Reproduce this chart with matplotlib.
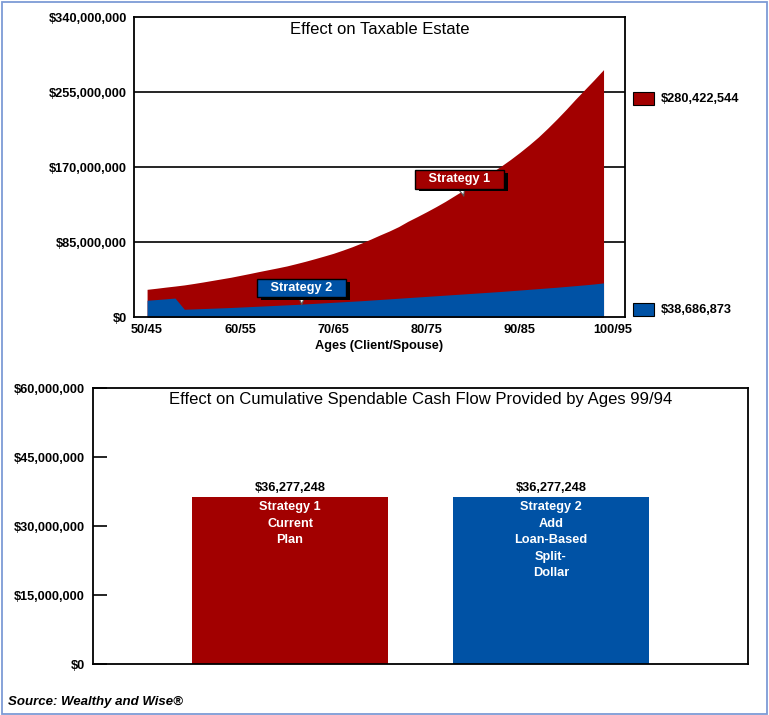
import numpy as np
import matplotlib
matplotlib.use("Agg")
import matplotlib.pyplot as plt
from matplotlib.patches import Rectangle
import matplotlib.patheffects as pe

plt.rcParams['font.family'] = ['Liberation Sans', 'DejaVu Sans']

# data - top chart (values in $ millions)
ages = list(range(50, 100))
strategy1 = [31.4, 32.6, 33.9, 35.1, 36.4, 38.0, 39.7, 41.5, 43.3, 45.1,
             47.2, 49.3, 51.5, 53.6, 55.7, 57.9, 60.5, 63.2, 66.1, 69.1,
             72.2, 75.8, 79.6, 83.8, 88.3, 93.0, 97.5, 102.5, 108.5, 113.8,
             119.3, 125.0, 131.0, 137.5, 144.0, 150.5, 157.0, 164.0, 171.0, 178.5,
             186.5, 195.0, 204.0, 214.0, 224.5, 235.5, 247.0, 258.0, 269.0, 280.4]
strategy2 = [19.0, 19.8, 20.6, 21.5, 8.8, 9.2, 9.6, 10.0, 10.4, 10.8,
             11.3, 11.8, 12.3, 12.8, 13.3, 13.8, 14.3, 14.9, 15.5, 16.1,
             16.7, 17.3, 17.9, 18.5, 19.2, 19.9, 20.6, 21.3, 22.0, 22.7,
             23.4, 24.1, 24.8, 25.5, 26.2, 26.9, 27.6, 28.3, 29.0, 29.8,
             30.6, 31.4, 32.2, 33.0, 33.8, 34.7, 35.6, 36.5, 37.5, 38.7]
final_labels = ["$280,422,544", "$38,686,873"]
age_ticks = [50, 60, 70, 80, 90, 100]
age_labels = ["50/45", "60/55", "70/65", "80/75", "90/85", "100/95"]
estate_ticks = [0, 85, 170, 255, 340]

# data - bottom chart
strategies = ["Strategy 1\nCurrent\nPlan", "Strategy 2\nAdd\nLoan-Based\nSplit-\nDollar"]
cash_flow = [36277248, 36277248]
cash_ticks = [0, 15000000, 30000000, 45000000, 60000000]

RED = '#a20000'
BLUE = '#0052a5'

fig = plt.figure(figsize=(7.69, 7.15), dpi=100)
fig.patches.append(Rectangle((0.002, 0.002), 0.995, 0.995, transform=fig.transFigure,
                             fill=False, ec='#7d9bd6', lw=1.3))

# ---- top chart
ax = fig.add_axes([0.1743, 0.5566, 0.6384, 0.4196])
x = np.array(ages)
ax.fill_between(x, 0, strategy1, color=RED, lw=0)
ax.fill_between(x, 0, strategy2, color=BLUE, lw=0)
ax.set_xlim(48.6, 101.3)
ax.set_ylim(0, 340)
ax.set_yticks(estate_ticks)
ax.set_yticklabels(["${:,.0f}".format(v * 1e6) for v in estate_ticks],
                   fontsize=9.2, fontweight='bold')
ax.set_xticks(age_ticks)
ax.set_xticklabels(age_labels, fontsize=9.2, fontweight='bold')
ax.tick_params(length=0, pad=5)
for g in estate_ticks[1:-1]:
    ax.axhline(g, color='black', lw=1.2, zorder=0)
for s in ax.spines.values():
    s.set_linewidth(1.3)
ax.set_xlabel("Ages (Client/Spouse)", fontsize=9.2, fontweight='bold', labelpad=3)
ax.text(0.5, 0.96, "Effect on Taxable Estate", transform=ax.transAxes,
        ha='center', va='center', fontsize=12)

# legend squares at right
for lab, col, yy in zip(final_labels, [RED, BLUE], [0.728, 0.025]):
    ax.add_patch(Rectangle((1.0163, yy - 0.0216), 0.0428, 0.0433, transform=ax.transAxes,
                           fc=col, ec='black', lw=0.8, clip_on=False))
    ax.text(1.072, yy, lab, transform=ax.transAxes, va='center', ha='left',
            fontsize=9.2, fontweight='bold')

# callouts
def callout(txt, xy, xytext, col):
    t = ax.annotate(txt, xy=xy, xytext=xytext, ha='center', va='center',
                    color='white', fontsize=9.2, fontweight='bold',
                    bbox=dict(boxstyle='square,pad=0.25', fc=col, ec='black', lw=1),
                    arrowprops=dict(arrowstyle='wedge,tail_width=0.5,shrink_factor=0.4',
                                    fc='white', ec='#555555', lw=0.8,
                                    shrinkA=0, shrinkB=0))
    t.get_bbox_patch().set_path_effects([
        pe.SimplePatchShadow(offset=(3, -2), shadow_rgbFace='black', alpha=1), pe.Normal()])

callout("   Strategy 1   ", (84.0, 137), (83.5, 155.9), RED)
callout("   Strategy 2   ", (66.6, 14), (66.6, 32.9), BLUE)

# ---- bottom chart
ax2 = fig.add_axes([0.1209, 0.0713, 0.8518, 0.386])
pos = np.arange(len(cash_flow))
bars = ax2.bar(pos, cash_flow, width=0.75, color=[RED, BLUE])
ax2.set_xlim(-0.755, 1.755)
ax2.set_ylim(0, 60000000)
ax2.set_xticks([])
ax2.set_yticks(cash_ticks)
ax2.set_yticklabels(["${:,.0f}".format(v) for v in cash_ticks], fontsize=9.2, fontweight='bold')
ax2.tick_params(axis='y', direction='in', length=10, width=1.2, pad=6)
for s in ax2.spines.values():
    s.set_linewidth(1.3)
for p, v, lab in zip(pos, cash_flow, strategies):
    ax2.annotate("${:,.0f}".format(v), xy=(p, v), xytext=(0, 2), textcoords='offset points',
                 ha='center', va='bottom', fontsize=9.2, fontweight='bold')
    ax2.annotate(lab, xy=(p, v), xytext=(0, -3), textcoords='offset points',
                 ha='center', va='top', fontsize=9.2, fontweight='bold', color='white',
                 linespacing=1.5)
ax2.text(0.5, 0.96, "Effect on Cumulative Spendable Cash Flow Provided by Ages 99/94",
         transform=ax2.transAxes, ha='center', va='center', fontsize=12)

fig.text(0.0104, 0.018, "Source: Wealthy and Wise\u00ae", fontsize=9.5,
         fontweight='bold', fontstyle='italic', va='center')

fig.savefig("out.png", dpi=100)
